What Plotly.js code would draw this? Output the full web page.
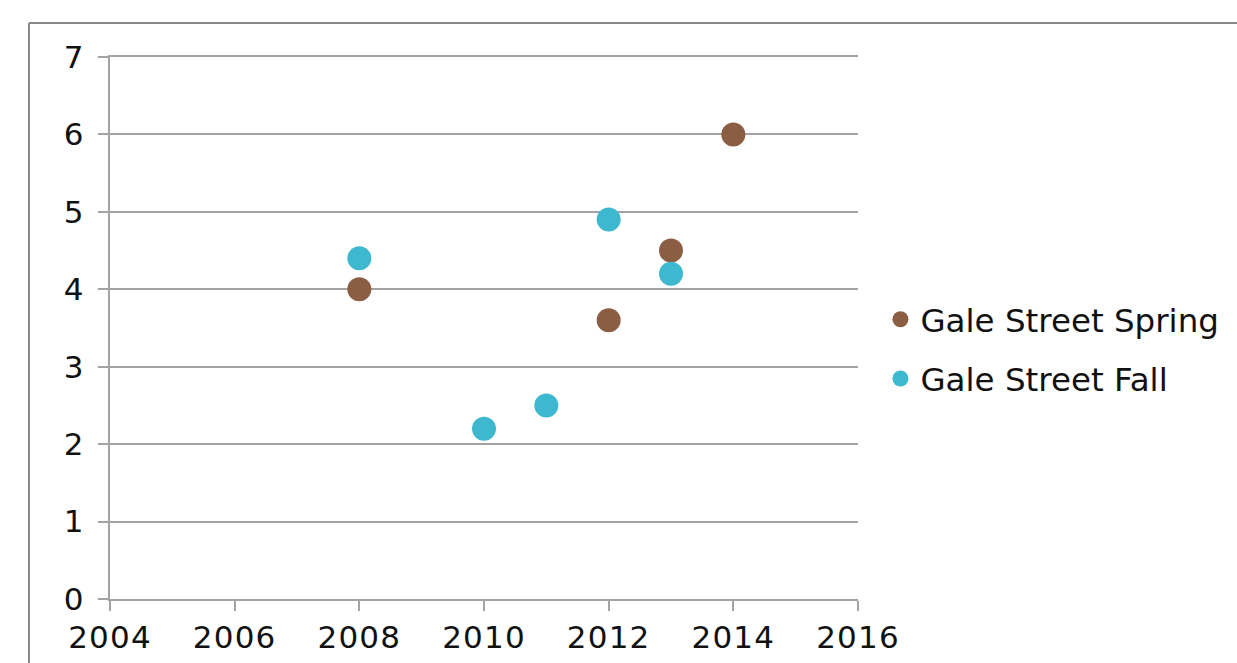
<!DOCTYPE html>
<html>
<head>
<meta charset="utf-8">
<script src="https://cdn.plot.ly/plotly-3.0.1.min.js"></script>
<style>
html, body { margin: 0; padding: 0; background: #fff; }
#chart { width: 1237px; height: 663px; }
#chart .xtick text, #chart .ytick text { letter-spacing: 1.2px; }
</style>
</head>
<body>
<div id="chart"></div>
<script>
var springYears = [2008, 2012, 2013, 2014];
var springValues = [4.0, 3.6, 4.5, 6.0];
var fallYears = [2008, 2010, 2011, 2012, 2013];
var fallValues = [4.4, 2.2, 2.5, 4.9, 4.2];
var seriesNames = ['Gale Street Spring', 'Gale Street Fall'];
var xTicks = [2004, 2006, 2008, 2010, 2012, 2014, 2016];
var yTicks = [0, 1, 2, 3, 4, 5, 6, 7];

var fontFam = 'Verdana, "DejaVu Sans", sans-serif';
var gray = '#a3a3a3';

var traces = [
  {
    x: springYears, y: springValues, name: seriesNames[0],
    type: 'scatter', mode: 'markers', legendgroup: 'a',
    marker: { color: '#8b5e43', size: 24 }
  },
  {
    x: fallYears, y: fallValues, name: seriesNames[1],
    type: 'scatter', mode: 'markers', legendgroup: 'b',
    marker: { color: '#3db8cf', size: 24 }
  }
];

var layout = {
  width: 1237, height: 663,
  margin: { l: 110, r: 379, t: 57, b: 64 },
  paper_bgcolor: '#fff', plot_bgcolor: '#fff',
  font: { family: fontFam, size: 31, color: '#111' },
  showlegend: true,
  legend: {
    x: 1.03, xanchor: 'left', y: 0.461, yanchor: 'middle',
    traceorder: 'grouped', tracegroupgap: 14,
    font: { family: fontFam, size: 32.5, color: '#111' }
  },
  xaxis: {
    range: [2004, 2016], tickvals: xTicks, ticktext: xTicks.map(String),
    showgrid: false, zeroline: false,
    showline: true, mirror: true, linecolor: gray, linewidth: 2,
    ticks: 'outside', ticklen: 10, tickcolor: gray, tickwidth: 2
  },
  yaxis: {
    range: [0, 7], tickvals: yTicks, ticktext: yTicks.map(String),
    showgrid: true, gridcolor: gray, gridwidth: 2, zeroline: false,
    showline: true, linecolor: gray, linewidth: 2,
    ticks: 'outside', ticklen: 10, tickcolor: gray, tickwidth: 2,
    ticklabelstandoff: 7
  },
  shapes: [
    { type: 'line', xref: 'paper', yref: 'paper', x0: -0.1083, x1: -0.1083, y0: -0.3, y1: 1.0627,
      line: { color: '#888', width: 2 } },
    { type: 'line', xref: 'paper', yref: 'paper', x0: -0.1083, x1: 1.8, y0: 1.0627, y1: 1.0627,
      line: { color: '#888', width: 2 } }
  ]
};

Plotly.newPlot('chart', traces, layout, { displayModeBar: false, staticPlot: true });
</script>
</body>
</html>
